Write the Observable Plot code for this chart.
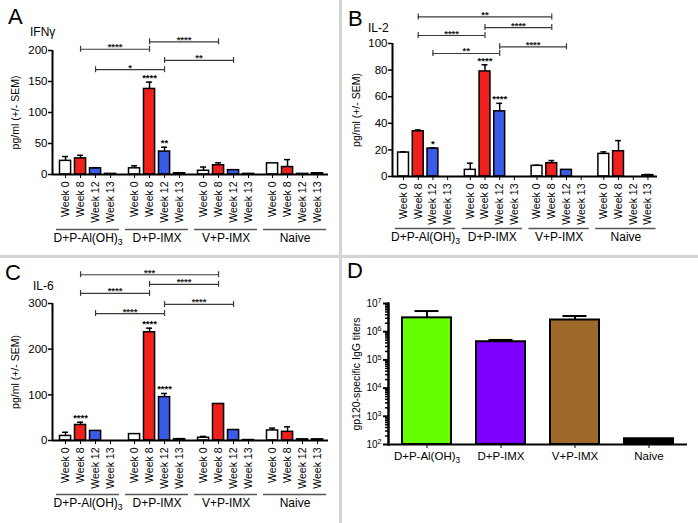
<!DOCTYPE html>
<html>
<head>
<meta charset="utf-8">
<script src="https://cdn.jsdelivr.net/npm/d3@7"></script>
<script src="https://cdn.jsdelivr.net/npm/@observablehq/plot@0.6"></script>
<style>
  body { margin: 0; background: #fff; font-family: Arial, "Liberation Sans", sans-serif; }
  #wrap { position: relative; width: 698px; height: 523px; overflow: hidden; background: #fff; }
  .panel { position: absolute; }
  .letter { position: absolute; font-size: 22px; line-height: 1; color: #000; }
  .title { position: absolute; font-size: 12px; line-height: 1; color: #000; }
  .vdiv { position: absolute; left: 339px; top: 0; width: 3px; height: 523px; background: #d4d4d4; }
  .hdiv { position: absolute; left: 0; top: 255px; width: 698px; height: 3px; background: #d4d4d4; }
</style>
</head>
<body>
<div id="wrap">
  <div class="vdiv"></div>
  <div class="hdiv"></div>
  <div id="pA" class="panel" style="left:0;top:0"></div>
  <div id="pB" class="panel" style="left:342px;top:0"></div>
  <div id="pC" class="panel" style="left:0;top:258px"></div>
  <div id="pD" class="panel" style="left:342px;top:258px"></div>
  <div class="letter" style="left:8px;top:6px">A</div>
  <div class="letter" style="left:348px;top:8px">B</div>
  <div class="letter" style="left:5px;top:262px">C</div>
  <div class="letter" style="left:347px;top:260px">D</div>
  <div class="title" style="left:30px;top:26px">IFNγ</div>
  <div class="title" style="left:368px;top:22px">IL-2</div>
  <div class="title" style="left:33px;top:280px">IL-6</div>
</div>
<script>
// ---------- data ----------
const groups = ["D+P-Al(OH)3", "D+P-IMX", "V+P-IMX", "Naive"];
const weeks = ["Week 0", "Week 8", "Week 12", "Week 13"];
const weekColors = ["#ffffff", "#f0201c", "#3a5ae8", "#ffffff"];

// IFN-gamma (panel A)
const ifngMean  = [22, 26, 10, 1,   10, 138, 37, 2,   6, 15, 7, 1,   18, 12, 1, 2];
const ifngErr   = [7, 5, 1, 0,      4, 11, 7, 0,      6, 4, 0, 0,    0, 12, 0, 0];
const ifngStars = ["", "", "", "",  "", "****", "**", "",  "", "", "", "",  "", "", "", ""];
const ifngBrFrom = [1, 5, 2, 6];
const ifngBrTo   = [5, 9, 6, 10];
const ifngBrY    = [202, 214, 169, 184];
const ifngBrLabel = ["****", "****", "*", "**"];
const ifngTicks = [0, 50, 100, 150, 200];

// IL-2 (panel B)
const il2Mean  = [18, 34, 21, 0,   5, 79, 49, 0,   8, 10, 5, 0,   17, 19, 0, 1];
const il2Err   = [0.5, 1, 0.5, 0,  5, 5, 6, 0,     0.5, 2, 0, 0,  1.5, 8, 0, 0.5];
const il2Stars = ["", "", "*", "",  "", "****", "****", "",  "", "", "", "",  "", "", "", ""];
const il2BrFrom = [1, 5, 1, 6, 2];
const il2BrTo   = [9, 9, 5, 10, 6];
const il2BrY    = [120, 112, 106, 97.5, 92.5];
const il2BrLabel = ["**", "****", "****", "****", "**"];
const il2Ticks = [0, 20, 40, 60, 80, 100];

// IL-6 (panel C)
const il6Mean  = [10, 34, 21, 0,   14, 237, 95, 3,   6, 80, 23, 1,   22, 19, 2.5, 2.5];
const il6Err   = [8, 6, 0, 0,      0, 9, 8, 0,       3, 0, 0, 0,     5, 11, 0, 0];
const il6Stars = ["", "****", "", "",  "", "****", "****", "",  "", "", "", "",  "", "", "", ""];
const il6BrFrom = [1, 5, 1, 6, 2];
const il6BrTo   = [9, 9, 5, 10, 6];
const il6BrY    = [363, 342, 322, 298, 278];
const il6BrLabel = ["***", "****", "****", "****", "****"];
const il6Ticks = [0, 100, 200, 300];

// gp120-specific IgG titers (panel D)
const titers    = [3.1e6, 4.4e5, 2.6e6, 160];
const titersErr = [2.3e6, 0.7e5, 1.0e6, 0];
const titerColors = ["#66ff00", "#8000ff", "#a0692c", "#000000"];
const titerTicks = [1e2, 1e3, 1e4, 1e5, 1e6, 1e7];

// ---------- helpers ----------
const FONT = "Arial, 'Liberation Sans', sans-serif";

function fixText(svg) {
  d3.select(svg).selectAll("text").each(function () {
    const t = this.textContent;
    if (t === "D+P-Al(OH)3") {
      this.textContent = "D+P-Al(OH)";
      d3.select(this).append("tspan").attr("dy", "0.35em").attr("font-size", "0.72em").text("3");
    } else if (t.startsWith("10^")) {
      const e = t.slice(3);
      this.textContent = "10";
      d3.select(this).append("tspan").attr("dy", "-0.5em").attr("font-size", "0.72em").text(e);
    }
  });
  return svg;
}

function cytokinePanel(c) {
  const pos = i => Math.floor(i / 4) * c.G + (i % 4);
  const rows = c.mean.map((m, i) => ({w: i % 4, mean: m, err: c.err[i], star: c.stars[i], pos: pos(i)}));
  const tickPos = rows.map(d => d.pos);
  const tickLab = new Map(rows.map(d => [d.pos, weeks[d.w]]));
  const groupRows = groups.map((name, g) => ({name, c: g * c.G + 1.5}));
  const brRows = c.brFrom.map((f, i) => ({x1: pos(f), x2: pos(c.brTo[i]), y: c.brY[i], label: c.brLabel[i]}));
  const yMax = c.yTicks[c.yTicks.length - 1];
  const h = 3 * yMax / (c.H - c.mT - c.mB);
  const withErr = rows.filter(d => d.err > 0);
  const bw = 0.37, cap = 0.2;
  const svg = Plot.plot({
    width: c.W, height: c.H,
    marginLeft: c.mL, marginRight: c.mR, marginTop: c.mT, marginBottom: c.mB,
    x: {type: "linear", domain: c.xDomain, axis: null},
    y: {domain: [0, yMax], axis: null},
    style: {fontFamily: FONT, color: "black", background: "transparent", overflow: "visible"},
    marks: [
      Plot.rect(rows, {x1: d => d.pos - bw, x2: d => d.pos + bw, y1: 0, y2: "mean",
        fill: d => weekColors[d.w], stroke: "black", strokeWidth: 1.5}),
      Plot.ruleX(withErr, {x: "pos", y1: "mean", y2: d => d.mean + d.err, stroke: "black", strokeWidth: 1.5}),
      Plot.ruleY(withErr, {y: d => d.mean + d.err, x1: d => d.pos - cap, x2: d => d.pos + cap, stroke: "black", strokeWidth: 1.5}),
      Plot.text(rows.filter(d => d.star), {x: "pos", y: d => d.mean + d.err, text: "star",
        lineAnchor: "bottom", dy: -1, fontSize: 9.5, fontWeight: "bold", fill: "black"}),
      // significance brackets
      Plot.ruleY(brRows, {y: "y", x1: "x1", x2: "x2", stroke: "#3a3a3a", strokeWidth: 1.2}),
      Plot.ruleX(brRows, {x: "x1", y1: d => d.y - h, y2: d => d.y + h, stroke: "#3a3a3a", strokeWidth: 1.2}),
      Plot.ruleX(brRows, {x: "x2", y1: d => d.y - h, y2: d => d.y + h, stroke: "#3a3a3a", strokeWidth: 1.2}),
      Plot.text(brRows, {x: d => (d.x1 + d.x2) / 2, y: "y", text: "label", lineAnchor: "bottom", dy: 1,
        fontSize: 9.5, fontWeight: "bold", fill: "#222"}),
      // axes
      Plot.ruleY([0], {stroke: "black", strokeWidth: 2}),
      Plot.ruleX([c.xDomain[0]], {stroke: "black", strokeWidth: 2}),
      Plot.axisY({ticks: c.yTicks, tickSize: 4, tickPadding: 1, fontSize: 11.5, label: null, strokeWidth: 1.5}),
      Plot.axisX({ticks: tickPos, tickFormat: d => tickLab.get(d), tickRotate: -90, tickSize: 4,
        tickPadding: 3, fontSize: 10.5, label: null}),
      Plot.text(["pg/ml (+/- SEM)"], {frameAnchor: "left", textAnchor: "middle", rotate: -90, dx: c.ylabDx, fontSize: 10.5}),
      // group underline + labels
      Plot.ruleY(groupRows, {y: 0, x1: d => d.c - c.half, x2: d => d.c + c.half, dy: c.lineDy, stroke: "#555", strokeWidth: 1.3}),
      Plot.text(groupRows, {x: "c", y: 0, text: "name", dy: c.labelDy, fontSize: 12})
    ]
  });
  return fixText(svg);
}

// ---------- panel A ----------
document.getElementById("pA").append(cytokinePanel({
  mean: ifngMean, err: ifngErr, stars: ifngStars, brFrom: ifngBrFrom, brTo: ifngBrTo, brY: ifngBrY, brLabel: ifngBrLabel,
  yTicks: ifngTicks, G: 4.6, xDomain: [-0.87, 17.53],
  W: 339, H: 255, mL: 52, mR: 11, mT: 50, mB: 81, lineDy: 55, labelDy: 64, ylabDx: -37, half: 2.1
}));

// ---------- panel B ----------
document.getElementById("pB").append(cytokinePanel({
  mean: il2Mean, err: il2Err, stars: il2Stars, brFrom: il2BrFrom, brTo: il2BrTo, brY: il2BrY, brLabel: il2BrLabel,
  yTicks: il2Ticks, G: 4.54, xDomain: [-0.75, 17.27],
  W: 356, H: 255, mL: 50, mR: 41, mT: 43, mB: 79, lineDy: 52, labelDy: 61, ylabDx: -36, half: 2.05
}));

// ---------- panel C ----------
document.getElementById("pC").append(cytokinePanel({
  mean: il6Mean, err: il6Err, stars: il6Stars, brFrom: il6BrFrom, brTo: il6BrTo, brY: il6BrY, brLabel: il6BrLabel,
  yTicks: il6Ticks, G: 4.6, xDomain: [-0.87, 17.53],
  W: 339, H: 265, mL: 52, mR: 11, mT: 45, mB: 83, lineDy: 54, labelDy: 63, ylabDx: -37, half: 2.1
}));

// ---------- panel D ----------
{
  const dRows = groups.map((name, i) => ({name, v: titers[i], err: titersErr[i], color: titerColors[i]}));
  const withErr = dRows.filter(d => d.err > 0);
  const minor = d3.range(2, 7).flatMap(k => d3.range(2, 10).map(m => m * Math.pow(10, k)));
  const svg = Plot.plot({
    width: 356, height: 265,
    marginLeft: 46, marginRight: 11, marginTop: 45, marginBottom: 79,
    x: {domain: groups, paddingInner: 0.333, paddingOuter: 0.16, axis: null},
    y: {type: "log", domain: [1e2, 1e7], axis: null},
    style: {fontFamily: FONT, color: "black", background: "transparent", overflow: "visible"},
    marks: [
      Plot.barY(dRows, {x: "name", y1: 1e2, y2: "v", fill: "color", stroke: "black", strokeWidth: 2}),
      Plot.ruleX(withErr, {x: "name", y1: "v", y2: d => d.v + d.err, stroke: "black", strokeWidth: 2}),
      Plot.tickY(withErr, {x: "name", y: d => d.v + d.err, insetLeft: 12.5, insetRight: 12.5, stroke: "black", strokeWidth: 2}),
      Plot.ruleY([1e2], {stroke: "black", strokeWidth: 2}),
      Plot.frame({anchor: "left", stroke: "black", strokeWidth: 2.5}),
      Plot.axisY({ticks: titerTicks, tickFormat: d => "10^" + Math.round(Math.log10(d)), tickSize: 5,
        tickPadding: 2, fontSize: 10, label: null, strokeWidth: 2}),
      Plot.axisY({ticks: minor, tickFormat: () => "", tickSize: 3, label: null, strokeWidth: 1.5}),
      Plot.axisX({tickSize: 4, tickPadding: 3, fontSize: 11.5, label: null}),
      Plot.text(["gp120-specific IgG titers"], {frameAnchor: "left", textAnchor: "middle", rotate: -90, dx: -32, fontSize: 10.5})
    ]
  });
  document.getElementById("pD").append(fixText(svg));
}
</script>
</body>
</html>
